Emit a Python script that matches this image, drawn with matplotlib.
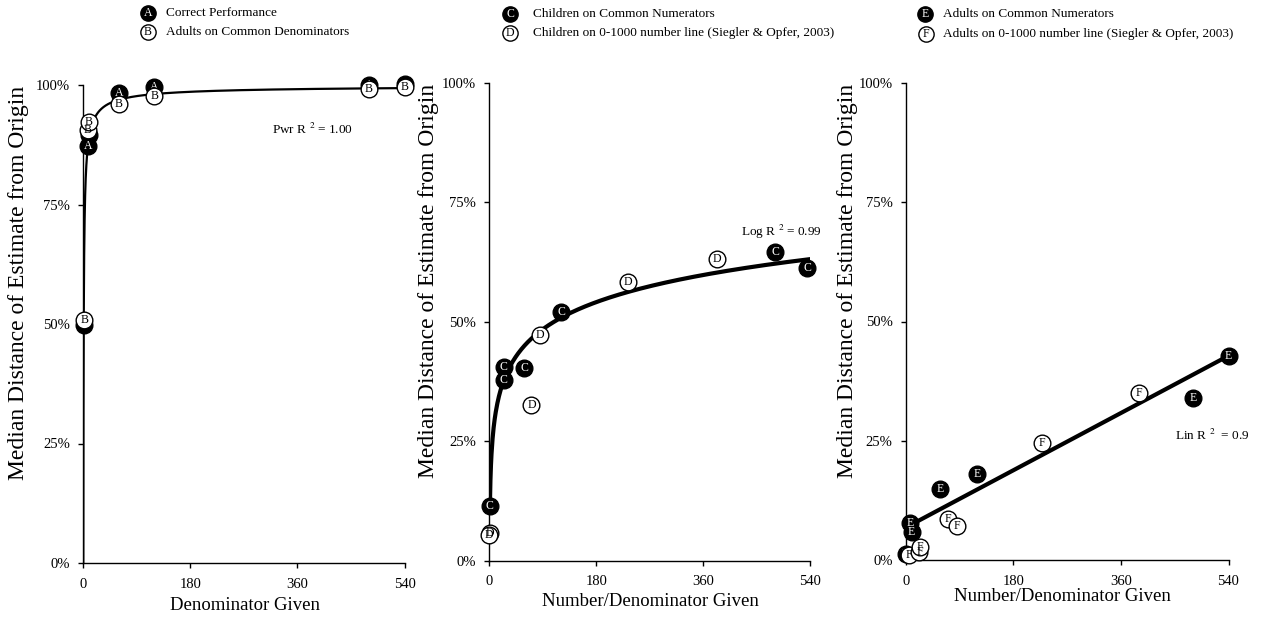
import numpy as np
import matplotlib
matplotlib.use('Agg')
import matplotlib.pyplot as plt

plt.rcParams['font.family'] = ['Liberation Serif', 'DejaVu Serif']
plt.rcParams['mathtext.fontset'] = 'stix'

W, H = 1263, 619

# ---------------- data ----------------
# Panel 1 (Denominator given)
x_A = [2, 8, 10, 60, 120, 480, 540]
y_A = [49.8, 87.3, 89.6, 98.3, 99.6, 100.0, 100.2]
x_B = [2, 8, 10, 60, 120, 480, 540]
y_B = [50.8, 90.6, 92.3, 96.0, 97.6, 99.2, 99.5]

# Panel 2 (Children)
x_C = [1, 24, 24, 59, 121, 481, 535]
y_C = [11.4, 40.5, 37.8, 40.3, 52.0, 64.7, 61.2]
x_D = [1, 0, 71, 85, 233, 384]
y_D = [5.9, 5.3, 32.6, 47.3, 58.4, 63.2]

# Panel 3 (Adults)
x_E = [0, 7, 10, 57, 120, 481, 540]
y_E = [1.3, 7.7, 5.8, 14.8, 18.0, 33.9, 42.8]
x_F = [6, 23, 24, 70, 86, 228, 390]
y_F = [1.05, 1.7, 2.8, 8.6, 7.2, 24.5, 35.1]

# linear trend coefficients (slope, intercept) as shown in panel 3
lin_coef = (0.0667, 6.8)

x_ticks = [0, 180, 360, 540]
y_ticks = [0, 25, 50, 75, 100]
y_ticklabels = ['0%', '25%', '50%', '75%', '100%']

legend_entries = [
    ('A', True, 'Correct Performance'),
    ('B', False, 'Adults on Common Denominators'),
    ('C', True, 'Children on Common Numerators'),
    ('D', False, 'Children on 0-1000 number line (Siegler & Opfer, 2003)'),
    ('E', True, 'Adults on Common Numerators'),
    ('F', False, 'Adults on 0-1000 number line (Siegler & Opfer, 2003)'),
]

# ---------------- figure ----------------
fig = plt.figure(figsize=(W / 100, H / 100), dpi=100)


def add_panel(x0, x540, y0, y100):
    return fig.add_axes([x0 / W, 1 - y0 / H, (x540 - x0) / W, (y0 - y100) / H])


panels = [
    add_panel(83, 404.5, 563, 85),
    add_panel(489.3, 810, 560.7, 83),
    add_panel(905.7, 1228.5, 560, 83),
]

MS = 12


def draw_pts(ax, xs, ys, letter, filled, z):
    ax.plot(xs, ys, 'o', ms=MS, mfc='black' if filled else 'white', mec='black',
            mew=1.0, ls='none', clip_on=False, zorder=z)
    for x, y in zip(xs, ys):
        ax.text(x, y, letter, ha='center', va='center', fontsize=8.5,
                color='white' if filled else 'black', zorder=z + 0.5, clip_on=False)


for ax in panels:
    ax.set_xlim(0, 540)
    ax.set_ylim(0, 100)
    for s in ['top', 'right']:
        ax.spines[s].set_visible(False)
    for s in ['left', 'bottom']:
        ax.spines[s].set_linewidth(1.0)
    ax.set_xticks(x_ticks)
    ax.set_xticklabels([str(t) for t in x_ticks])
    ax.set_yticks(y_ticks)
    ax.set_yticklabels(y_ticklabels)
    ax.tick_params(axis='both', direction='out', length=3.5, width=1.0, labelsize=10.5)
    ax.tick_params(axis='y', pad=6)
    ax.tick_params(axis='x', pad=7)
    ax.patch.set_alpha(0)

YLAB = 'Median Distance of Estimate from Origin'

# Panel 1: power-type fit from B data
ax = panels[0]
bx = np.array(x_B, float)
by = np.array(y_B, float)
k1, lc1 = np.polyfit(np.log(bx), np.log(100 - by), 1)
xx = np.geomspace(0.3, 540, 600)
ax.plot(xx, 100 - np.exp(lc1) * xx ** k1, color='black', lw=1.6, zorder=2)
draw_pts(ax, x_A, y_A, 'A', True, 3)
draw_pts(ax, x_B, y_B, 'B', False, 5)
ax.text(317, 90.6, 'Pwr R $^2$ = 1.00', fontsize=9.5, ha='left', va='center')
ax.set_xlabel('Denominator Given', fontsize=13.5, va='center')
ax.set_ylabel(YLAB, fontsize=17, va='center')
ax.xaxis.set_label_coords(0.504, -0.088)
ax.yaxis.set_label_coords(-0.202, 0.585)

# Panel 2: log fit from C data
ax = panels[1]
cx = np.array(x_C, float)
cy = np.array(y_C, float)
a2, b2 = np.polyfit(np.log(cx), cy, 1)
xx = np.linspace(1, 540, 600)
ax.plot(xx, a2 * np.log(xx) + b2, color='black', lw=3, zorder=2)
draw_pts(ax, x_C, y_C, 'C', True, 3)
draw_pts(ax, x_D, y_D, 'D', False, 5)
ax.text(424, 68.8, 'Log R $^2$ = 0.99', fontsize=9.5, ha='left', va='center')
ax.set_xlabel('Number/Denominator Given', fontsize=13.5, va='center')
ax.set_ylabel(YLAB, fontsize=17, va='center')
ax.xaxis.set_label_coords(0.501, -0.086)
ax.yaxis.set_label_coords(-0.191, 0.585)

# Panel 3: linear fit
ax = panels[2]
xx = np.linspace(8, 540, 10)
ax.plot(xx, lin_coef[0] * xx + lin_coef[1], color='black', lw=3, zorder=2)
draw_pts(ax, x_E, y_E, 'E', True, 3)
draw_pts(ax, x_F, y_F, 'F', False, 5)
ax.text(450, 26.2, 'Lin R $^2$  = 0.9', fontsize=9.5, ha='left', va='center')
ax.set_xlabel('Number/Denominator Given', fontsize=13.5, va='center')
ax.set_ylabel(YLAB, fontsize=17, va='center')
ax.xaxis.set_label_coords(0.487, -0.077)
ax.yaxis.set_label_coords(-0.179, 0.585)

# ---------------- legends (pixel layout) ----------------
leg = fig.add_axes([0, 0, 1, 1])
leg.set_xlim(0, W)
leg.set_ylim(H, 0)
leg.axis('off')
leg_pos = [(148, 13, 166), (148, 32, 166), (510, 14, 533), (510, 33, 533),
           (925, 14, 943), (926, 34, 943)]
for (letter, filled, label), (mx, my, tx) in zip(legend_entries, leg_pos):
    leg.plot([mx], [my], 'o', ms=11, mfc='black' if filled else 'white', mec='black', mew=1.0)
    leg.text(mx, my, letter, ha='center', va='center', fontsize=8.5,
             color='white' if filled else 'black')
    leg.text(tx, my, label, ha='left', va='center', fontsize=9.5)

fig.savefig('out.png', dpi=100)
